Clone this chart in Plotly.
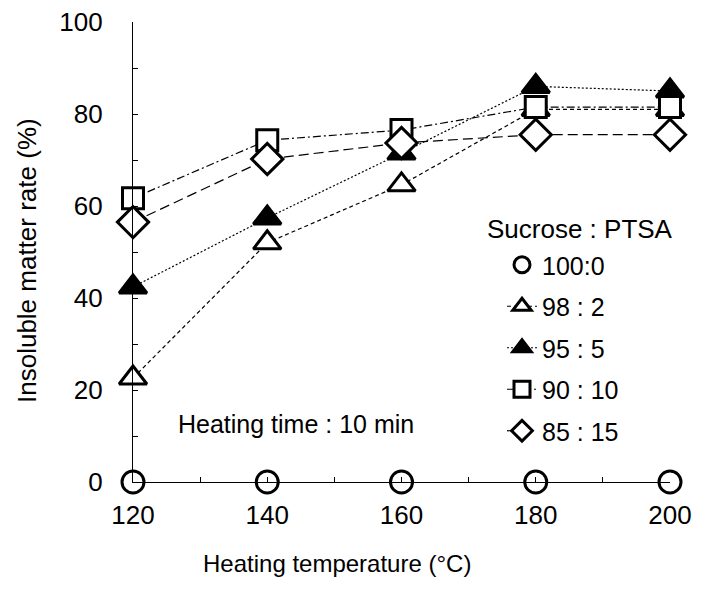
import plotly.graph_objects as go

temps = [120, 140, 160, 180, 200]
series_names = ["100:0", "98 : 2", "95 : 5", "90 : 10", "85 : 15"]
s100_0 = [0, 0, 0, 0, 0]
s98_2 = [22.6, 52, 64.6, 81, 81]
s95_5 = [42.4, 57.4, 71.5, 86, 85]
s90_10 = [61.7, 74.3, 76.5, 81.5, 81.5]
s85_15 = [56.5, 70.2, 73.7, 75.5, 75.5]

FONT = "Liberation Sans, Arial, sans-serif"

styles = [
    dict(symbol="circle", size=22, dash=None, mode="markers"),
    dict(symbol="triangle-up", size=24, dash="4px,3px", mode="lines+markers", fill="white"),
    dict(symbol="triangle-up", size=24, dash="2px,2px", mode="lines+markers", fill="black"),
    dict(symbol="square", size=21, dash="8px,3px,2px,3px", mode="lines+markers", fill="white"),
    dict(symbol="diamond", size=24, dash="10px,5px", mode="lines+markers", fill="white"),
]
data = [s100_0, s98_2, s95_5, s90_10, s85_15]

fig = go.Figure()
for name, ys, st in zip(series_names, data, styles):
    fig.add_trace(go.Scatter(
        x=temps, y=ys, name=name, mode=st["mode"], legendgroup=name,
        line=dict(color="black", width=1.2, dash=st["dash"] or "solid"),
        marker=dict(symbol=st["symbol"], size=st["size"], color=st.get("fill", "white"),
                    line=dict(color="black", width=3)),
        cliponaxis=False,
    ))

# page body adds an 8px offset; target screen coordinates are corrected by OFF
OFF = 8
L, R, T, B = 133 - OFF, 34 + OFF, 22 - OFF, 108 + OFF
PW, PH = 704 - L - R, 590 - T - B


def px(x):
    return (x - OFF - L) / PW


def py(y):
    return (590 - B - (y - OFF)) / PH


def ann(text, x, y, size, angle=0):
    return dict(text=text, textangle=angle, xref="paper", yref="paper",
                x=px(x), y=py(y), xanchor="center", yanchor="middle",
                showarrow=False, font=dict(size=size))


fig.update_layout(
    width=704, height=590,
    margin=dict(l=L, r=R, t=T, b=B, autoexpand=False),
    paper_bgcolor="white", plot_bgcolor="white",
    font=dict(family=FONT, size=25, color="black"),
    showlegend=True,
    legend=dict(x=px(502), xanchor="left", y=py(242), yanchor="top",
                font=dict(family=FONT, size=25), tracegroupgap=6,
                bgcolor="rgba(0,0,0,0)", itemwidth=30),
    xaxis=dict(range=[120, 200], tickvals=[120, 140, 160, 180, 200],
               showline=True, linecolor="black", linewidth=1.2,
               ticks="inside", ticklen=5, tickcolor="black",
               minor=dict(dtick=10, tick0=120, ticks="inside", ticklen=5, tickcolor="black"),
               showgrid=False, zeroline=False, ticklabelstandoff=10,
               ticklabeloverflow="allow", tickfont=dict(size=26)),
    yaxis=dict(range=[0, 100], tickvals=[0, 20, 40, 60, 80, 100],
               showline=True, linecolor="black", linewidth=1.2,
               ticks="inside", ticklen=5, tickcolor="black",
               minor=dict(dtick=10, tick0=0, ticks="inside", ticklen=5, tickcolor="black"),
               showgrid=False, zeroline=False, ticklabelstandoff=24,
               ticklabeloverflow="allow", tickfont=dict(size=26)),
    annotations=[
        ann("Insoluble matter rate (%)", 27, 260, 26, -90),
        ann("Heating temperature (°C)", 337, 563, 24),
        ann("Heating time : 10 min", 296, 424, 25),
        ann("Sucrose : PTSA", 580, 229, 26),
    ],
)

fig.write_html("out.html")
